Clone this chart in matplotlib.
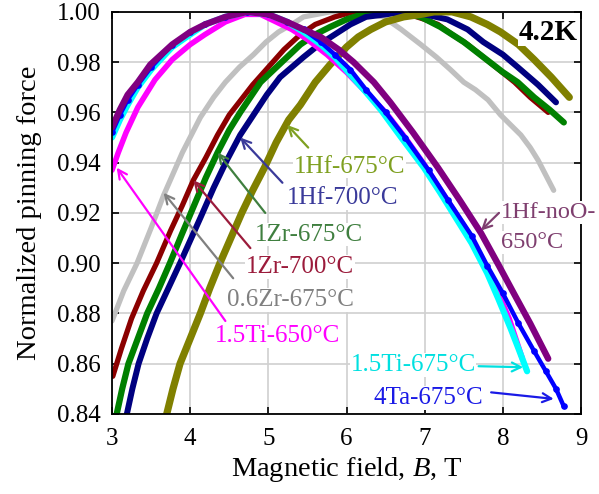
import numpy as np
import matplotlib
matplotlib.use('Agg')
import matplotlib.pyplot as plt

plt.rcParams['font.family'] = 'Liberation Serif'
plt.rcParams['mathtext.fontset'] = 'custom'
plt.rcParams['mathtext.rm'] = 'Liberation Serif'
plt.rcParams['mathtext.it'] = 'Liberation Serif:italic'

# curves: field B (T) and normalized pinning force
b_06zr = [3.00, 3.15, 3.32, 3.50, 3.66, 3.90, 4.13, 4.30, 4.45, 4.63, 4.81, 4.97, 5.13, 5.30, 5.45, 5.62, 5.79,
          5.95, 6.10, 6.30, 6.47, 6.70, 6.95, 7.15, 7.33, 7.50, 7.65, 7.81, 7.97, 8.10, 8.23, 8.35, 8.45, 8.55, 8.65]
f_06zr = [0.877, 0.889, 0.900, 0.914, 0.927, 0.944, 0.958, 0.966, 0.972, 0.978, 0.983, 0.988, 0.992, 0.995, 0.998, 0.999, 1.000,
          1.000, 1.000, 0.999, 0.998, 0.993, 0.987, 0.982, 0.977, 0.972, 0.969, 0.965, 0.959, 0.955, 0.951, 0.946, 0.941, 0.935, 0.929]

b_1zr700 = [3.01, 3.12, 3.25, 3.40, 3.57, 3.75, 3.90, 4.04, 4.20, 4.35, 4.50, 4.65, 4.80, 5.00, 5.20, 5.41, 5.60, 5.85,
            6.09, 6.30, 6.53, 6.80, 7.00, 7.17, 7.35, 7.55, 7.75, 7.95, 8.15, 8.35, 8.58]
f_1zr700 = [0.855, 0.866, 0.878, 0.889, 0.900, 0.913, 0.923, 0.933, 0.942, 0.951, 0.959, 0.965, 0.971, 0.978, 0.985, 0.991, 0.995, 0.998,
            1.000, 1.000, 1.000, 0.999, 0.997, 0.995, 0.991, 0.987, 0.982, 0.977, 0.972, 0.966, 0.960]

b_1zr675 = [3.06, 3.13, 3.21, 3.33, 3.45, 3.60, 3.74, 3.90, 4.05, 4.20, 4.35, 4.50, 4.64, 4.77, 4.90, 5.07, 5.24, 5.41, 5.60,
            5.79, 6.00, 6.20, 6.40, 6.65, 6.95, 7.20, 7.50, 7.75, 8.00, 8.19, 8.40, 8.60, 8.78]
f_1zr675 = [0.840, 0.850, 0.860, 0.870, 0.880, 0.890, 0.900, 0.912, 0.923, 0.934, 0.944, 0.953, 0.960, 0.966, 0.972, 0.977, 0.982, 0.987, 0.991,
            0.994, 0.997, 0.999, 1.000, 1.000, 0.998, 0.994, 0.988, 0.982, 0.976, 0.972, 0.966, 0.961, 0.956]

b_1hf700 = [3.19, 3.26, 3.34, 3.45, 3.57, 3.72, 3.87, 4.00, 4.13, 4.30, 4.47, 4.64, 4.81, 4.98, 5.15, 5.30, 5.45, 5.65, 5.85,
            6.05, 6.25, 6.50, 6.73, 7.00, 7.29, 7.55, 7.75, 8.00, 8.19, 8.45, 8.68]
f_1hf700 = [0.840, 0.850, 0.860, 0.870, 0.880, 0.890, 0.900, 0.909, 0.918, 0.930, 0.941, 0.951, 0.959, 0.967, 0.974, 0.978, 0.982, 0.987, 0.991,
            0.995, 0.998, 0.999, 1.000, 0.999, 0.997, 0.993, 0.988, 0.983, 0.978, 0.971, 0.964]

b_1hf675 = [3.70, 3.78, 3.87, 4.00, 4.13, 4.25, 4.38, 4.52, 4.66, 4.80, 4.95, 5.10, 5.26, 5.41, 5.60, 5.79, 6.00, 6.15,
            6.31, 6.50, 6.73, 6.95, 7.12, 7.35, 7.59, 7.80, 7.97, 8.20, 8.40, 8.62, 8.85]
f_1hf675 = [0.840, 0.850, 0.860, 0.870, 0.880, 0.890, 0.900, 0.910, 0.920, 0.929, 0.938, 0.948, 0.957, 0.963, 0.972, 0.979, 0.986, 0.990,
            0.993, 0.996, 0.998, 0.999, 1.000, 1.000, 0.998, 0.995, 0.992, 0.987, 0.981, 0.974, 0.966]

b_15ti650 = [3.00, 3.08, 3.18, 3.33, 3.55, 3.77, 4.00, 4.19, 4.45, 4.70, 4.90, 5.10, 5.30, 5.50, 5.75, 6.00, 6.25,
             6.50, 6.75, 7.00, 7.25, 7.50, 7.70, 7.90, 8.08, 8.25]
f_15ti650 = [0.937, 0.944, 0.952, 0.962, 0.973, 0.981, 0.987, 0.991, 0.996, 0.999, 0.999, 0.996, 0.993, 0.989, 0.983, 0.976, 0.968,
             0.960, 0.950, 0.939, 0.927, 0.915, 0.903, 0.891, 0.878, 0.862]

b_15ti675 = [3.00, 3.10, 3.20, 3.33, 3.50, 3.77, 4.00, 4.19, 4.45, 4.73, 5.00, 5.24, 5.45, 5.67, 5.85, 6.05, 6.25, 6.44,
             6.70, 6.99, 7.20, 7.40, 7.60, 7.80, 7.94, 8.10, 8.20, 8.31]
f_15ti675 = [0.950, 0.957, 0.963, 0.970, 0.977, 0.986, 0.991, 0.995, 0.998, 1.000, 0.999, 0.996, 0.992, 0.987, 0.982, 0.975, 0.968, 0.961,
             0.950, 0.938, 0.928, 0.918, 0.908, 0.896, 0.886, 0.874, 0.866, 0.857]

b_4ta = [3.00, 3.10, 3.20, 3.33, 3.50, 3.77, 4.00, 4.19, 4.45, 4.73, 5.00, 5.24, 5.45, 5.67, 5.85, 6.05, 6.25, 6.50,
         6.75, 7.05, 7.30, 7.60, 7.80, 8.00, 8.20, 8.40, 8.55, 8.68, 8.78]
f_4ta = [0.952, 0.959, 0.965, 0.971, 0.978, 0.987, 0.992, 0.995, 0.998, 1.000, 0.999, 0.996, 0.993, 0.988, 0.983, 0.977, 0.969, 0.960,
         0.950, 0.937, 0.925, 0.911, 0.899, 0.888, 0.876, 0.865, 0.857, 0.850, 0.843]

b_noo = [3.00, 3.10, 3.20, 3.33, 3.49, 3.77, 4.00, 4.19, 4.45, 4.73, 5.00, 5.24, 5.45, 5.67, 5.90, 6.09, 6.35, 6.56,
         6.85, 7.17, 7.45, 7.72, 7.95, 8.14, 8.35, 8.58]
f_noo = [0.954, 0.961, 0.967, 0.972, 0.979, 0.987, 0.992, 0.995, 0.998, 1.000, 0.999, 0.996, 0.993, 0.990, 0.985, 0.980, 0.972, 0.964,
         0.952, 0.938, 0.925, 0.912, 0.899, 0.888, 0.876, 0.862]

fig, ax = plt.subplots(figsize=(5.99, 4.94), dpi=100)
fig.subplots_adjust(left=0.187, right=0.970, top=0.976, bottom=0.162)

style = dict(solid_capstyle='round', solid_joinstyle='round')
ax.plot(b_06zr, f_06zr, '-', color='#c0c0c0', lw=3.8, **style)
ax.plot(b_1zr700, f_1zr700, '-', color='#8b0000', lw=3.8, **style)
ax.plot(b_1zr675, f_1zr675, '-', color='#008000', lw=4.5, **style)
ax.plot(b_1hf700, f_1hf700, '-', color='#000080', lw=4.3, **style)
ax.plot(b_1hf675, f_1hf675, '-', color='#808000', lw=5.2, **style)
ax.plot(b_15ti650, f_15ti650, '-', color='#ff00ff', lw=4.0, **style)
ax.plot(b_15ti675, f_15ti675, '-', color='#00ffff', lw=4.5, **style)
ax.plot(b_4ta, f_4ta, 'o-', color='#0000ff', lw=3.2, ms=3.8, **style)
ax.plot(b_noo, f_noo, '-', color='#800080', lw=4.6, **style)

ax.set_xlim(3, 9)
ax.set_ylim(0.84, 1.00)
ax.set_xticks(np.arange(3, 10, 1))
ax.set_yticks(np.arange(0.84, 1.001, 0.02))
ax.set_yticklabels(['%.2f' % v for v in np.arange(0.84, 1.001, 0.02)])
ax.grid(True, color='#d0d0d0', lw=1.2)
ax.set_axisbelow(True)
ax.tick_params(direction='in', length=5, width=1.2, top=True, right=True, labelsize=18)
ax.tick_params(axis='x', pad=10)
ax.tick_params(axis='y', pad=8)
for s in ax.spines.values():
    s.set_linewidth(1.3)

ax.set_xlabel('Magnetic field, $B$, T', fontsize=20.5, labelpad=4)
ax.set_ylabel('Normalized pinning force', fontsize=20.5, labelpad=11)

# labels: text (left, baseline), arrow tail, arrow tip, colour
labels = ['1Hf-675°C', '1Hf-700°C', '1Zr-675°C', '1Zr-700°C', '0.6Zr-675°C',
          '1.5Ti-650°C', '1.5Ti-675°C', '4Ta-675°C']
label_xy = [(5.32, 0.936), (5.24, 0.9235), (4.83, 0.909), (4.71, 0.896), (4.47, 0.883),
            (4.32, 0.8685), (6.05, 0.857), (6.35, 0.844)]
tails = [(5.51, 0.946), (5.18, 0.932), (4.96, 0.920), (4.77, 0.906), (4.55, 0.894),
         (4.45, 0.877), (7.69, 0.859), (7.85, 0.8486)]
tips = [(5.24, 0.955), (4.64, 0.950), (4.35, 0.944), (4.04, 0.933), (3.66, 0.928),
        (3.06, 0.938), (8.26, 0.8586), (8.65, 0.846)]
label_colors = ['#7fa020', '#3a3a9a', '#3f7f3f', '#9b1b3b', '#808080',
                '#ff00ff', '#00e0e0', '#1a1ae6']

for txt, pos, tail, tip, c in zip(labels, label_xy, tails, tips, label_colors):
    ax.annotate('', xy=tip, xytext=tail,
                arrowprops=dict(arrowstyle='->', color=c, lw=1.6, mutation_scale=16,
                                shrinkA=0, shrinkB=0), zorder=5)
    ax.text(pos[0], pos[1], txt, color=c, fontsize=18, ha='left', va='baseline',
            bbox=dict(facecolor='white', edgecolor='none', pad=0.5), zorder=6)

noo_color = '#7f3f6f'
ax.annotate('', xy=(7.72, 0.913), xytext=(7.95, 0.920),
            arrowprops=dict(arrowstyle='->', color=noo_color, lw=1.6, mutation_scale=16,
                            shrinkA=0, shrinkB=0), zorder=5)
ax.text(7.97, 0.918, '1Hf-noO-', color=noo_color, fontsize=17.5, ha='left', va='baseline',
        bbox=dict(facecolor='white', edgecolor='none', pad=0.5), zorder=6, clip_on=False)
ax.text(7.97, 0.906, '650°C', color=noo_color, fontsize=17.5, ha='left', va='baseline',
        bbox=dict(facecolor='white', edgecolor='none', pad=0.5), zorder=6, clip_on=False)

ax.text(8.96, 0.989, '4.2K', fontsize=21, fontweight='bold', ha='right', va='baseline',
        bbox=dict(facecolor='white', edgecolor='none', pad=0.5), zorder=6)

plt.savefig('out.png', dpi=100)
